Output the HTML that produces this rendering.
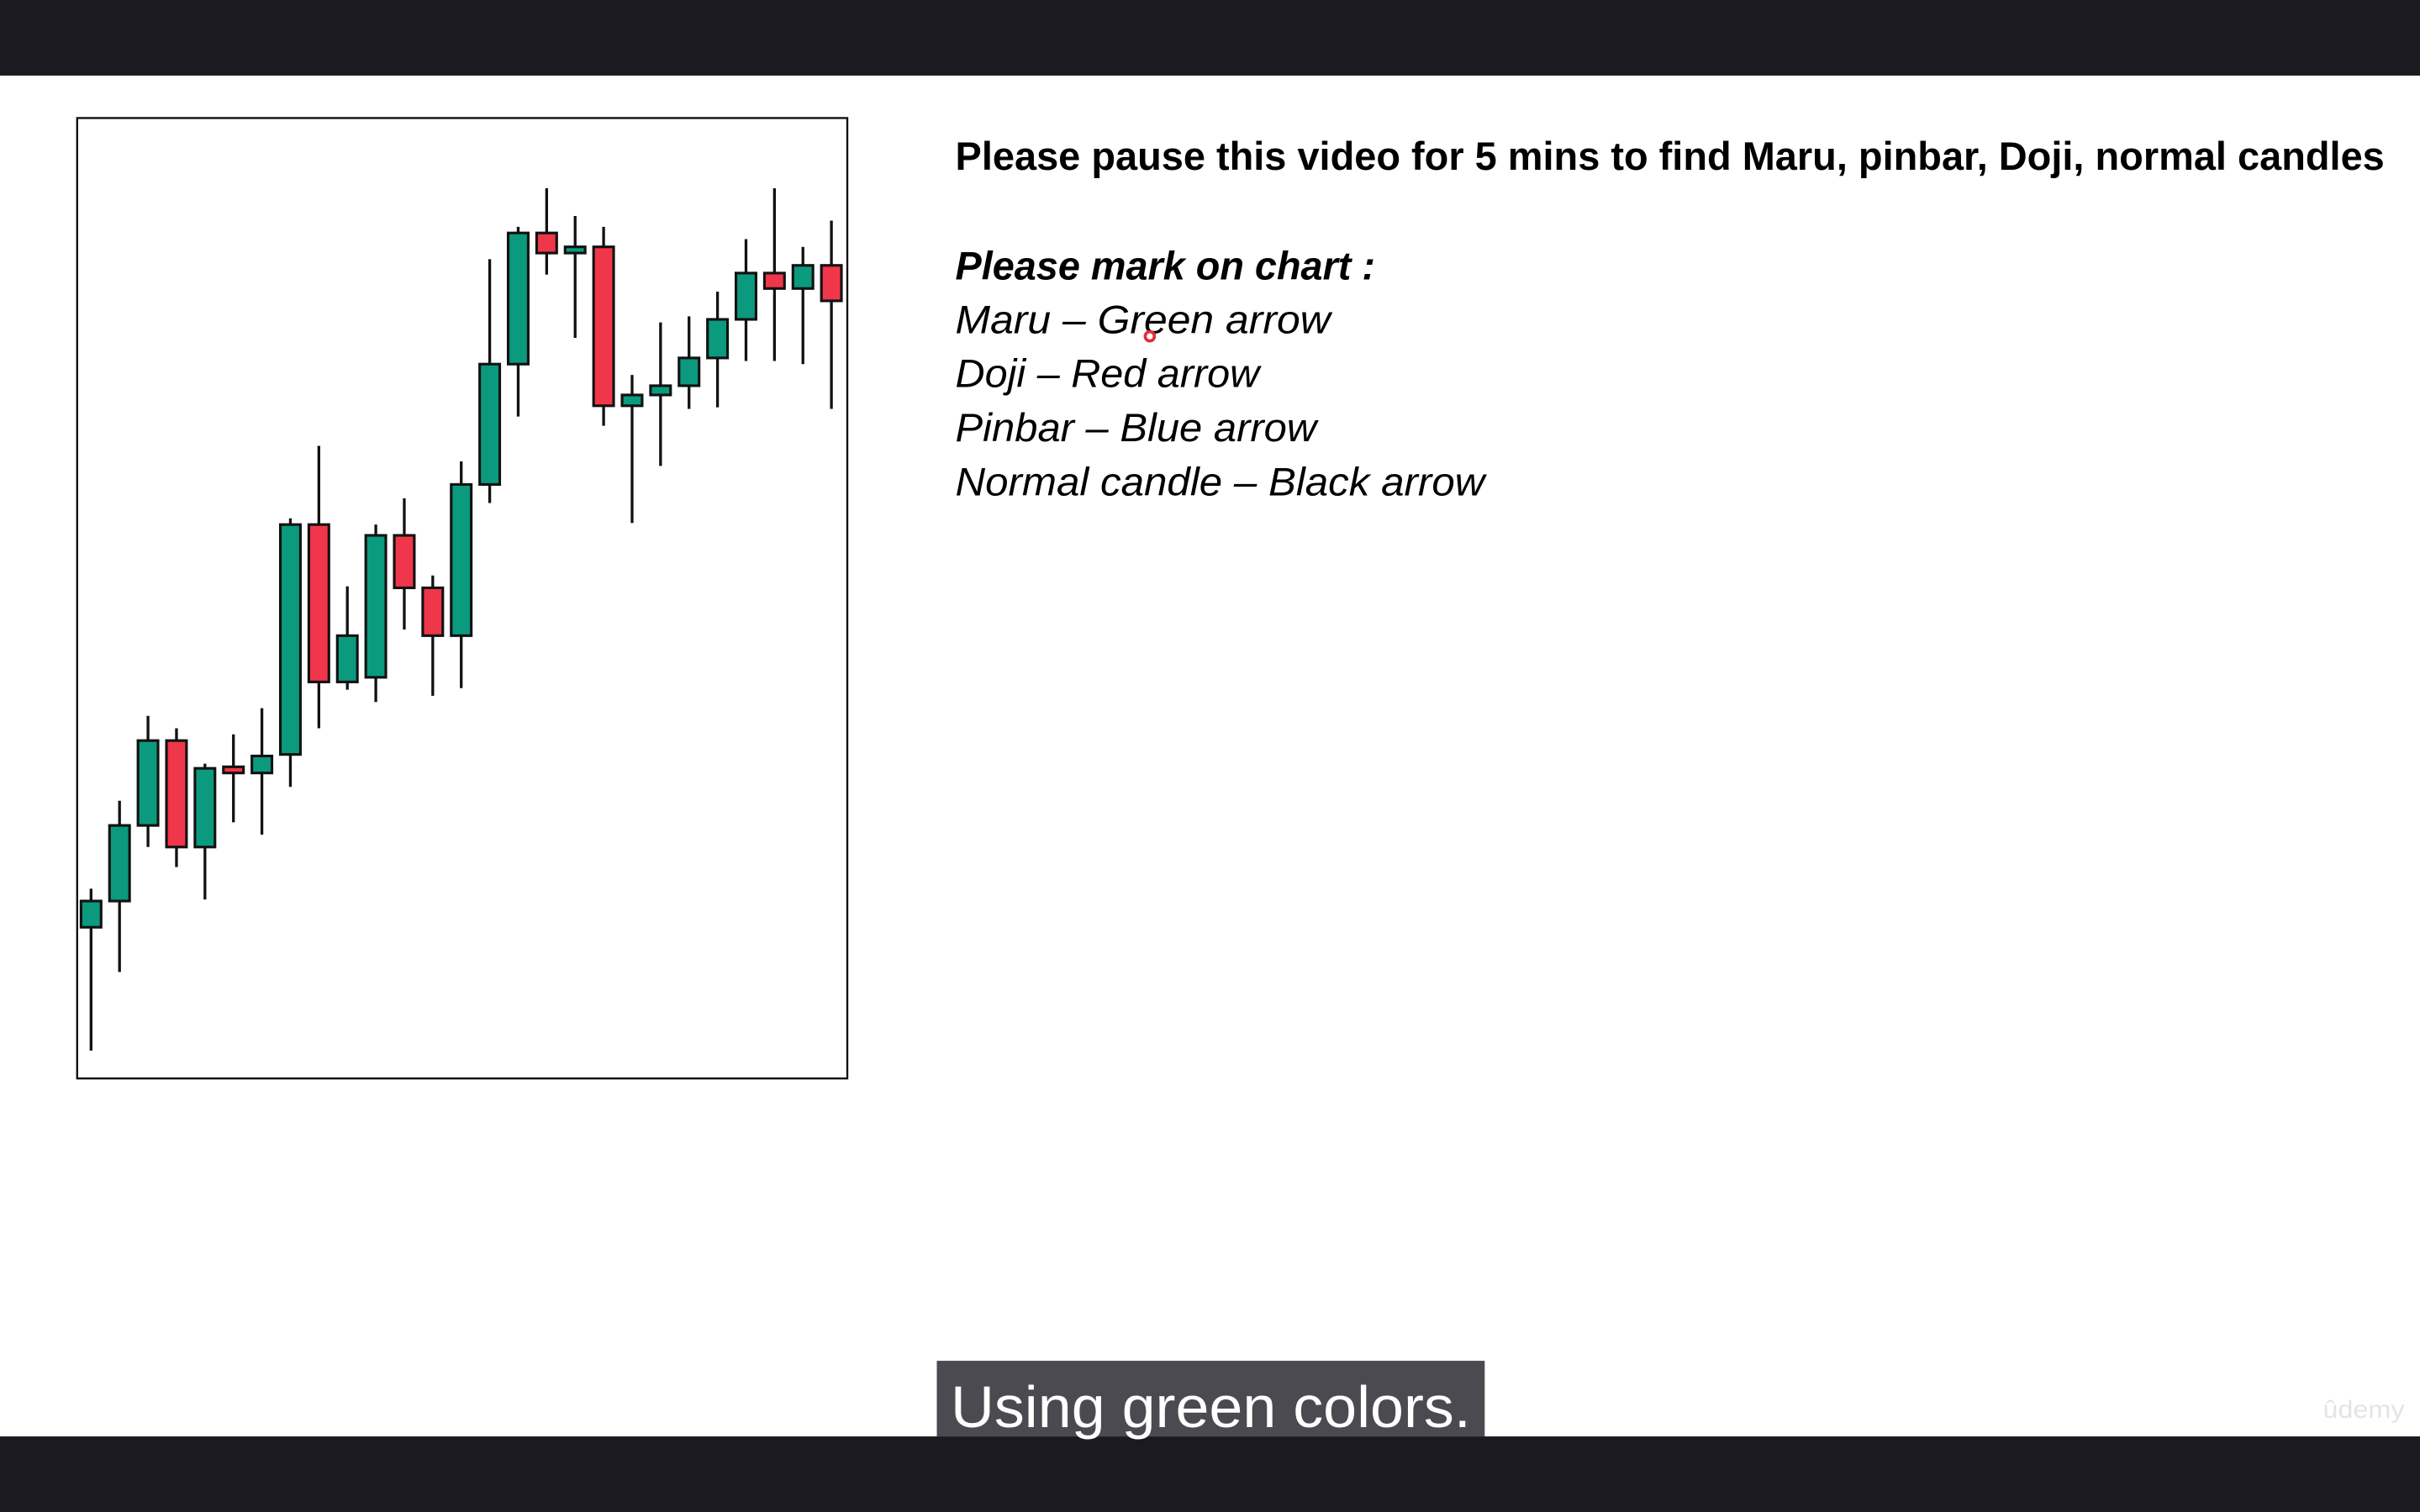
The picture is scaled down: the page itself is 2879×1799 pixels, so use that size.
<!DOCTYPE html>
<html><head><meta charset="utf-8"><style>
html,body{margin:0;padding:0;background:#fff;overflow:hidden}
svg{display:block}
</style></head><body>
<svg id="stage" width="2879" height="1799" viewBox="0 0 1568 980" preserveAspectRatio="none" xmlns="http://www.w3.org/2000/svg" font-family="'Liberation Sans', sans-serif">
<rect x="0" y="0" width="1568" height="980" fill="#ffffff"/>
<rect x="0" y="0" width="1568" height="49" fill="#1b1a20"/>
<rect x="0" y="931" width="1568" height="49" fill="#1b1a20"/>
<rect x="50" y="76.5" width="499" height="622.5" fill="#fff" stroke="#111" stroke-width="1.3"/>
<g id="candles"></g>
<g fill="#000">
<text x="619" y="110" font-size="26" font-weight="bold" textLength="926" lengthAdjust="spacingAndGlyphs">Please pause this video for 5 mins to find Maru, pinbar, Doji, normal candles</text>
<text x="619" y="181" font-size="26" font-weight="bold" font-style="italic" textLength="272" lengthAdjust="spacingAndGlyphs">Please mark on chart :</text>
<text x="619" y="216" font-size="26" font-style="italic" textLength="243" lengthAdjust="spacingAndGlyphs">Maru – Green arrow</text>
<text x="619" y="251" font-size="26" font-style="italic" textLength="197" lengthAdjust="spacingAndGlyphs">Doji – Red arrow</text>
<text x="619" y="286" font-size="26" font-style="italic" textLength="234" lengthAdjust="spacingAndGlyphs">Pinbar – Blue arrow</text>
<text x="619" y="321" font-size="26" font-style="italic" textLength="343" lengthAdjust="spacingAndGlyphs">Normal candle – Black arrow</text>
</g>
<circle cx="745" cy="218" r="3" fill="none" stroke="#e0303a" stroke-width="2"/>
<rect x="607" y="882" width="355" height="49" fill="#4b4a50"/>
<text x="784.5" y="925" font-size="38" fill="#fff" text-anchor="middle" textLength="337" lengthAdjust="spacingAndGlyphs">Using green colors.</text>
<text x="1505" y="919" font-size="16" fill="#e4e4e4" textLength="53" lengthAdjust="spacingAndGlyphs">ûdemy</text>
</svg>
<script>
// price units (higher = up)
const opens  = [98,115,164,219,150,202,198,210,359,257,260,352,318,287,385,463,548,535,539,436,443,449,467,492,522,512,527];
const highs  = [123,180,235,227,204,223,240,363,410,319,359,376,326,400,531,552,577,559,552,456,490,494,510,544,577,539,556];
const lows   = [18,69,150,137,116,166,158,189,227,252,244,291,248,253,373,429,521,480,423,360,397,434,435,465,465,463,434];
const closes = [115,164,219,150,201,198,209,359,257,287,352,318,287,385,463,548,535,539,436,443,449,467,492,522,512,527,504];

const NS = 'http://www.w3.org/2000/svg';
const plotLeft = 50, plotBottom = 699, step = 18.45, firstX = 59, bodyW = 13;
function xScale(i){ return firstX + i*step; }
function yScale(p){ return plotBottom - p; }
const g = document.getElementById('candles');
for (let i = 0; i < opens.length; i++) {
  const x = xScale(i);
  const up = closes[i] >= opens[i];
  const wick = document.createElementNS(NS, 'line');
  
  
  wick.setAttribute('x1', x); wick.setAttribute('x2', x);
  wick.setAttribute('y1', yScale(highs[i])); wick.setAttribute('y2', yScale(lows[i]));
  wick.setAttribute('stroke', '#111'); wick.setAttribute('stroke-width', '1.8');
  g.appendChild(wick);
  const top = yScale(Math.max(opens[i], closes[i]));
  const bot = yScale(Math.min(opens[i], closes[i]));
  const body = document.createElementNS(NS, 'rect');
  
  
  body.setAttribute('x', x - bodyW/2); body.setAttribute('y', top);
  body.setAttribute('width', bodyW); body.setAttribute('height', Math.max(bot - top, 2.5));
  body.setAttribute('fill', up ? '#0b9a7e' : '#f0364a');
  body.setAttribute('stroke', '#111'); body.setAttribute('stroke-width', '1.7');
  g.appendChild(body);
}
</script>
</body></html>
